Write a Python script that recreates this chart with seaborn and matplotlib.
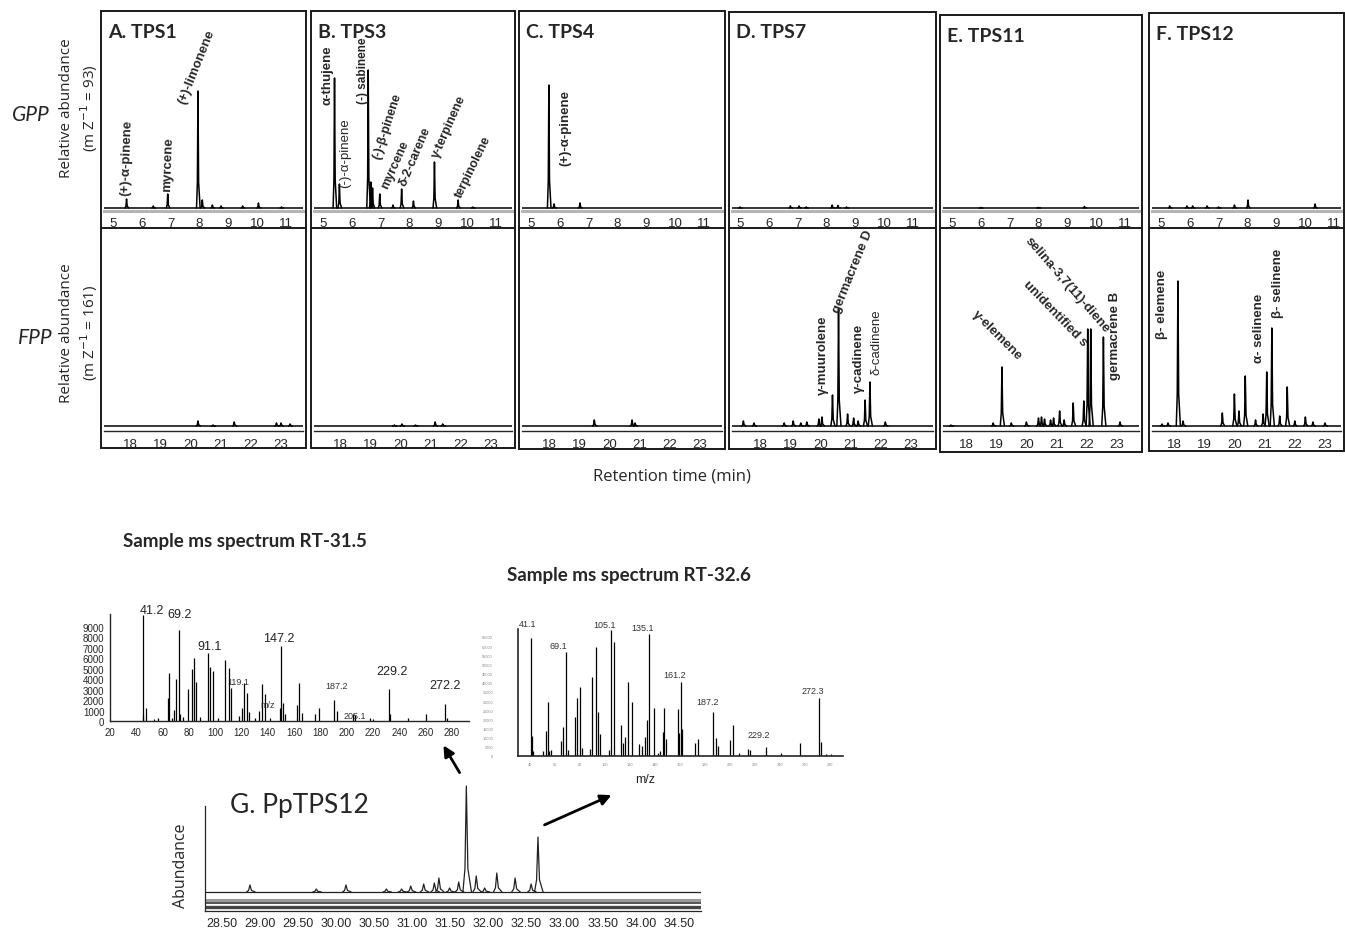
import numpy as np
import pandas as pd
import matplotlib
matplotlib.use('Agg')
import matplotlib.pyplot as plt
import seaborn as sns
from matplotlib.patches import Rectangle, FancyArrowPatch
from matplotlib.lines import Line2D
from matplotlib.ticker import MultipleLocator, FixedLocator

W, H = 1345, 929

# ---------------- data ----------------
# GPP assays (retention time, min / peak height, relative abundance)
tps1_gpp_rt = [5.47, 6.40, 6.90, 7.95, 8.10, 8.45, 8.75, 9.50, 10.05, 10.85]
tps1_gpp_ab = [9, 2, 14, 117, 8, 3, 2, 2, 5, 1]
tps3_gpp_rt = [5.40, 5.57, 6.57, 6.66, 6.72, 6.97, 7.43, 7.73, 8.14, 8.87, 9.69, 10.20]
tps3_gpp_ab = [130, 24, 138, 26, 20, 14, 3, 19, 7, 46, 8, 1]
tps4_gpp_rt = [5.62, 5.80, 6.70]
tps4_gpp_ab = [123, 4, 5]
tps7_gpp_rt = [5.00, 6.75, 7.05, 7.30, 8.20, 8.40, 8.70]
tps7_gpp_ab = [1, 2, 2, 1, 3, 2.5, 1]
tps11_gpp_rt = [6.00, 8.00, 9.60]
tps11_gpp_ab = [0.5, 0.5, 1.5]
tps12_gpp_rt = [5.30, 5.90, 6.10, 6.60, 7.00, 7.55, 8.02, 10.35]
tps12_gpp_ab = [2, 2, 2, 2, 1, 3, 8, 4]

# FPP assays
tps1_fpp_rt = [20.25, 20.75, 21.45, 22.85, 23.00, 23.30]
tps1_fpp_ab = [5, 1, 4, 3, 3, 2]
tps3_fpp_rt = [19.80, 20.05, 20.50, 21.15, 21.40]
tps3_fpp_ab = [1, 2, 1, 4, 2]
tps4_fpp_rt = [19.50, 20.75, 20.85]
tps4_fpp_ab = [6, 6, 3]
tps7_fpp_rt = [17.45, 17.80, 18.80, 19.10, 19.35, 19.55, 19.95, 20.05, 20.40, 20.60,
               20.90, 21.10, 21.25, 21.48, 21.64, 22.15]
tps7_fpp_ab = [5, 3, 3, 5, 3, 4, 7, 9, 31, 117, 12, 8, 5, 26, 44, 4]
tps11_fpp_rt = [17.50, 18.90, 19.19, 19.50, 20.00, 20.40, 20.50, 20.60, 20.80, 20.90,
                21.10, 21.25, 21.55, 21.90, 22.03, 22.13, 22.55, 23.10]
tps11_fpp_ab = [1, 3, 59, 3, 4, 8, 9, 7, 6, 8, 15, 6, 23, 25, 97, 97, 89, 4]
tps12_fpp_rt = [17.60, 17.80, 18.13, 18.30, 19.60, 20.00, 20.15, 20.36, 20.70, 20.95,
                21.07, 21.24, 21.50, 21.75, 22.00, 22.35, 22.60, 23.00]
tps12_fpp_ab = [2, 3, 145, 5, 13, 32, 15, 50, 6, 12, 54, 98, 10, 39, 5, 9, 4, 3]

panel_titles = ['A. TPS1', 'B. TPS3', 'C. TPS4', 'D. TPS7', 'E. TPS11', 'F. TPS12']

# mass spectrum at RT 31.5 (m/z as drawn, intensity)
ms1_mz = [44.9, 45.4, 47.1, 53.7, 56.8, 63.9, 65.2, 67.4, 68.7, 70.2, 72.5, 73.3, 75.3,
          79.6, 82.2, 83.7, 85.4, 88.5, 94.3, 96.1, 98.6, 102.4, 107.8, 110.6, 112.1,
          117.9, 120.2, 122.2, 124.3, 126.0, 130.4, 133.6, 135.9, 138.0, 141.8, 148.9,
          150.1, 151.2, 153.2, 162.1, 163.8, 165.9, 175.8, 179.1, 190.5, 192.5, 204.7,
          206.0, 217.4, 219.9, 232.3, 233.3, 246.3, 260.2, 274.9, 276.2]
ms1_int = [10200, 600, 1200, 200, 300, 2200, 4600, 300, 1100, 4000, 8700, 700, 400,
           3100, 5000, 6000, 3700, 400, 6500, 5200, 4800, 300, 5800, 5100, 3200,
           500, 1200, 3600, 2700, 900, 300, 1000, 3500, 2600, 300, 1200,
           7200, 1700, 700, 1500, 3600, 800, 700, 1200, 2000, 1000, 700,
           600, 300, 200, 3100, 700, 300, 700, 1600, 300]
ms1_labels = ['41.2', '69.2', '91.1', '147.2', '229.2', '272.2']
ms1_small_labels = ['119.1', '187.2', 'm/z', '205.1']

# mass spectrum at RT 32.6
ms2_mz = [41.1, 42.2, 43.0, 50.4, 53.1, 54.4, 55.5, 57.1, 64.9, 66.5, 69.1, 70.4, 76.3,
          78.2, 80.3, 81.7, 88.4, 90.0, 92.7, 94.3, 95.9, 103.1, 104.7, 107.3, 112.9,
          114.7, 116.3, 118.9, 121.6, 127.1, 129.5, 132.1, 133.7, 135.3, 139.1, 142.3,
          144.5, 146.3, 147.6, 149.2, 158.3, 159.4, 161.0, 161.8, 172.5, 174.4, 186.4,
          188.8, 190.4, 200.5, 202.4, 207.2, 214.4, 216.0, 228.8, 241.1, 256.3, 271.2,
          273.1, 277.3, 281.1]
ms2_int = [64200, 10900, 2700, 2700, 13600, 29400, 2700, 3200, 8200, 15800, 56700, 3200,
           21500, 31800, 37800, 4500, 3600, 43300, 59400, 24200, 11800, 3200, 68500, 62400,
           16900, 6900, 10500, 40400, 29600, 6400, 5400, 10500, 19600, 66400, 26400, 1500,
           2700, 13300, 26400, 9500, 25800, 12700, 40500, 14500, 6900, 9100, 24200, 10000,
           5400, 8500, 16900, 1500, 3600, 3100, 4900, 1800, 6900, 31500, 7600, 900, 900]
ms2_labels = ['41.1', '69.1', '105.1', '135.1', '161.2', '187.2', '229.2', '272.3']

# PpTPS12 total ion chromatogram (retention time / abundance above baseline)
g_rt = [28.87, 29.74, 30.13, 30.66, 30.86, 30.98, 31.15, 31.29, 31.35, 31.49, 31.61,
        31.71, 31.84, 31.95, 32.11, 32.35, 32.56, 32.65]
g_ab = [7, 3, 7, 3, 3, 6, 8, 9, 14, 4, 10, 106, 16, 4, 19, 14, 8, 55]


# ---------------- helpers ----------------
def px_rect(x0, y0, x1, y1):
    return [x0 / W, 1 - y1 / H, (x1 - x0) / W, (y1 - y0) / H]


def trace_frame(rt, ab, lo, hi, w=0.045):
    rows = [(lo, 0, 'base'), (hi, 0, 'base')]
    for i, (x, y) in enumerate(zip(rt, ab)):
        k = str(i)
        rows += [(x - w, 0, k), (x - 0.4 * w, 0.22 * y, k), (x, y, k),
                 (x + 0.45 * w, 0.22 * y, k), (x + 1.5 * w, 0, k)]
    return pd.DataFrame(rows, columns=['rt', 'abundance', 'peak'])


def draw_trace(ax, rt, ab, lo, hi, w=0.045, lw=1.1, color='black'):
    df = trace_frame(rt, ab, lo, hi, w)
    sns.lineplot(data=df, x='rt', y='abundance', units='peak', estimator=None,
                 sort=False, color=color, lw=lw, ax=ax, legend=False)
    ax.set_xlim(lo, hi)
    ax.set_xlabel('')
    ax.set_ylabel('')


def ftext(x, y, s, **kw):
    fig.text(x / W, 1 - y / H, s, **kw)


sns.set_style("white")
plt.rcParams['font.family'] = ['Liberation Sans Narrow', 'Liberation Sans', 'DejaVu Sans']
plt.rcParams['axes.facecolor'] = 'none'
LATO = ['Lato', 'DejaVu Sans']
OPEN = ['Open Sans', 'DejaVu Sans']
ARIAL = ['Liberation Sans', 'DejaVu Sans']

fig = plt.figure(figsize=(W / 100, H / 100), dpi=100)

# ---------------- panels A-F ----------------
box_left = [101, 311, 519, 729, 940, 1149]
box_right = [306, 515, 725, 936, 1142, 1344]
box_top = [12, 12, 12, 13, 16, 14]
box_bot = [449, 449, 450, 450, 453, 452]
tick5_px = [113, 323, 531, 740, 952, 1161]
tick18_px = [130, 340, 549, 760, 966, 1174]
gpp_rt = [tps1_gpp_rt, tps3_gpp_rt, tps4_gpp_rt, tps7_gpp_rt, tps11_gpp_rt, tps12_gpp_rt]
gpp_ab = [tps1_gpp_ab, tps3_gpp_ab, tps4_gpp_ab, tps7_gpp_ab, tps11_gpp_ab, tps12_gpp_ab]
fpp_rt = [tps1_fpp_rt, tps3_fpp_rt, tps4_fpp_rt, tps7_fpp_rt, tps11_fpp_rt, tps12_fpp_rt]
fpp_ab = [tps1_fpp_ab, tps3_fpp_ab, tps4_fpp_ab, tps7_fpp_ab, tps11_fpp_ab, tps12_fpp_ab]

for i in range(6):
    L, R, T, B = box_left[i], box_right[i], box_top[i], box_bot[i]
    fig.add_artist(Rectangle((L / W, 1 - B / H), (R - L) / W, (B - T) / H,
                             transform=fig.transFigure, fill=False, lw=1.4, ec='#1a1a1a'))
    fig.add_artist(Line2D([L / W, R / W], [1 - 229 / H] * 2, transform=fig.transFigure,
                          lw=1.4, color='#1a1a1a'))

    # GPP (top)
    ax = fig.add_axes(px_rect(L + 3, T + 2, R - 3, 212))
    lo = 5 - (tick5_px[i] - L - 3) / 28.8
    hi = 5 + (R - 3 - tick5_px[i]) / 28.8
    draw_trace(ax, gpp_rt[i], gpp_ab[i], lo, hi, w=0.05)
    ax.set_ylim(-3, 212 - (T + 2) - 3)
    sns.despine(ax=ax, left=True, top=True, right=True)
    ax.spines['bottom'].set_color('#b5b5b5')
    ax.spines['bottom'].set_linewidth(2.2)
    ax.set_yticks([])
    ax.set_xticks(range(5, 12))
    ax.tick_params(axis='x', length=3, width=0.8, color='#666', labelsize=9.5, pad=1)

    # FPP (bottom)
    ax = fig.add_axes(px_rect(L + 3, 231, R - 3, 432))
    lo = 18 - (tick18_px[i] - L - 3) / 30.2
    hi = 18 + (R - 3 - tick18_px[i]) / 30.2
    draw_trace(ax, fpp_rt[i], fpp_ab[i], lo, hi, w=0.055)
    ax.set_ylim(-5, 432 - 231 - 5)
    sns.despine(ax=ax, left=True, top=True, right=True)
    ax.spines['bottom'].set_linewidth(1.0)
    ax.set_yticks([])
    ax.set_xticks(range(18, 24))
    ax.xaxis.set_minor_locator(MultipleLocator(0.1))
    ax.tick_params(axis='x', which='major', length=4, width=0.8, labelsize=9.5, pad=1)
    ax.tick_params(axis='x', which='minor', length=2.5, width=0.6)

    ftext(L + 7, T + 20, panel_titles[i], family=LATO, fontweight='bold', fontsize=14,
          ha='left', va='center')

# compound labels: (x px, y px, text, rotation, bold, size)
peak_labels = [
    (127, 158, '(+)-α-pinene', 88, True, 9.5),
    (168, 165, 'myrcene', 88, True, 9.5),
    (197, 67, '(+)-limonene', 68, True, 9.5),
    (327, 75, 'α-thujene', 90, True, 9.5),
    (345, 153, '(-)-α-pinene', 90, False, 9.5),
    (363, 71, '(-) sabinene', 90, True, 8.5),
    (387, 127, '(-)-β-pinene', 72, True, 9),
    (395, 165, 'myrcene', 66, True, 9),
    (415, 157, 'δ-2-carene', 67, True, 9),
    (449, 127, 'γ-terpinene', 66, True, 9),
    (473, 167, 'terpinolene', 64, True, 9),
    (565, 128, '(+)-α-pinene', 90, True, 9.5),
    (823, 355, 'γ-muurolene', 90, True, 9.5),
    (853, 272, 'germacrene D', 68, True, 9.5),
    (859, 358, 'γ-cadinene', 90, True, 9.5),
    (877, 342, 'δ-cadinene', 90, False, 9.5),
    (997, 336, 'γ-elemene', -45, True, 9.5),
    (1067, 285, 'selina-3,7(11)-diene', -49, True, 9.5),
    (1055, 314, 'unidentified s', -46, True, 9.5),
    (1115, 336, 'germacrene B', 90, True, 9.5),
    (1162, 304, 'β- elemene', 90, True, 9.5),
    (1259, 328, 'α- selinene', 90, True, 9.5),
    (1278, 283, 'β- selinene', 90, True, 9.5),
]
for x, y, s, rot, bold, size in peak_labels:
    ftext(x, y, s, rotation=rot, fontsize=size, fontweight='bold' if bold else 'normal',
          ha='center', va='center')

# side labels
ftext(31, 115, 'GPP', family=LATO, style='italic', fontsize=15, ha='center', va='center')
ftext(35, 338, 'FPP', family=LATO, style='italic', fontsize=15, ha='center', va='center')
ftext(67, 108, 'Relative abundance', family=OPEN, fontsize=11, rotation=90, ha='center', va='center')
ftext(89, 108, r'(m Z$^{-1}$ = 93)', family=OPEN, fontsize=11, rotation=90, ha='center', va='center')
ftext(67, 333, 'Relative abundance', family=OPEN, fontsize=11, rotation=90, ha='center', va='center')
ftext(89, 333, r'(m Z$^{-1}$ = 161)', family=OPEN, fontsize=11, rotation=90, ha='center', va='center')
ftext(672, 477, 'Retention time (min)', family=OPEN, fontsize=12, ha='center', va='center')

ftext(123, 541, 'Sample ms spectrum RT-31.5', family=LATO, fontweight='bold', fontsize=13.5,
      ha='left', va='center')
ftext(507, 576, 'Sample ms spectrum RT-32.6', family=LATO, fontweight='bold', fontsize=13.5,
      ha='left', va='center')

# ---------------- mass spectrum RT-31.5 ----------------
ax = fig.add_axes(px_rect(110, 615, 469, 722))
ax.vlines(ms1_mz, 0, ms1_int, color='black', lw=0.9)
ax.set_xlim(20, 293)
ax.set_ylim(0, 10250)
sns.despine(ax=ax)
ax.spines['left'].set_linewidth(1.0)
ax.spines['bottom'].set_linewidth(1.0)
ax.set_xticks(range(20, 281, 20))
ax.set_yticks(range(0, 9001, 1000))
ax.xaxis.set_minor_locator(MultipleLocator(5))
ax.yaxis.set_minor_locator(MultipleLocator(200))
ax.tick_params(axis='both', which='major', length=3, width=0.7, labelsize=7, pad=1)
ax.tick_params(axis='both', which='minor', length=1.8, width=0.6)
for (x, y), txt in zip([(152, 611), (180, 615), (210, 647), (279, 639), (392, 672), (445, 686)],
                       ms1_labels):
    ftext(x, y, txt, fontsize=9, family=ARIAL, color='#222', ha='center', va='center')
for (x, y), txt in zip([(238, 683), (337, 687), (268, 706), (355, 717)], ms1_small_labels):
    ftext(x, y, txt, fontsize=6.5, family=ARIAL, color='#333', ha='center', va='center')

# ---------------- mass spectrum RT-32.6 ----------------
ax = fig.add_axes(px_rect(518, 630, 843, 757))
ax.vlines(ms2_mz, 0, ms2_int, color='black', lw=0.9)
ax.set_xlim(30.7, 290.7)
ax.set_ylim(0, 69300)
sns.despine(ax=ax)
ax.spines['left'].set_linewidth(1.2)
ax.spines['bottom'].set_linewidth(1.2)
ax.set_xticks(range(40, 281, 20))
ax.set_yticks(range(0, 65001, 5000))
ax.xaxis.set_minor_locator(MultipleLocator(5))
ax.yaxis.set_minor_locator(MultipleLocator(1000))
ax.tick_params(axis='both', which='major', length=2, width=0.6, labelsize=2.8,
               labelcolor='#888', pad=2)
ax.tick_params(axis='y', which='major', pad=16)
ax.tick_params(axis='both', which='minor', length=1.5, width=0.5)
for (x, y), txt in zip([(528, 625), (558, 647), (605, 626), (643, 629), (675, 676),
                        (708, 703), (759, 736), (813, 692)], ms2_labels):
    ftext(x, y, txt, fontsize=6.5, family=ARIAL, color='#333', ha='center', va='center')
ftext(645, 780, 'm/z', fontsize=9, color='#222', ha='center', va='center', family=ARIAL)

# ---------------- G. PpTPS12 chromatogram ----------------
ax = fig.add_axes(px_rect(205, 782, 701, 912))
draw_trace(ax, g_rt, g_ab, 28.28, 34.79, w=0.045, lw=0.9, color='#222')
for yv, c, lw in [(-8, '#9a9a9a', 2.2), (-10.5, '#555555', 1.4), (-15, '#444444', 2.4)]:
    ax.axhline(yv, color=c, lw=lw, zorder=1)
ax.set_ylim(-19, 111)
sns.despine(ax=ax)
ax.spines['left'].set_bounds(-19, 86)
ax.spines['left'].set_linewidth(0.9)
ax.spines['bottom'].set_linewidth(0.9)
ax.set_xticks(np.arange(28.5, 34.51, 0.5))
ax.set_xticklabels([f'{v:.2f}' for v in np.arange(28.5, 34.51, 0.5)])
ax.xaxis.set_minor_locator(MultipleLocator(0.1))
ax.set_yticks([])
ax.yaxis.set_minor_locator(FixedLocator(list(range(-19, 87, 5))))
ax.tick_params(axis='x', which='major', length=3.5, width=0.7, labelsize=9, pad=1)
ax.tick_params(axis='both', which='minor', length=2, width=0.6)

ftext(230, 806, 'G. PpTPS12', family=LATO, fontsize=19, ha='left', va='center')
ftext(181, 866, 'Abundance', family=OPEN, fontsize=11.5, rotation=90, ha='center', va='center')

for (x0, y0), (x1, y1) in [((461, 776), (442, 744)), ((542, 827), (614, 795))]:
    fig.add_artist(FancyArrowPatch((x0 / W, 1 - y0 / H), (x1 / W, 1 - y1 / H),
                                   transform=fig.transFigure, arrowstyle='-|>',
                                   mutation_scale=16, lw=2, color='black'))

fig.savefig('out.png', dpi=100)
